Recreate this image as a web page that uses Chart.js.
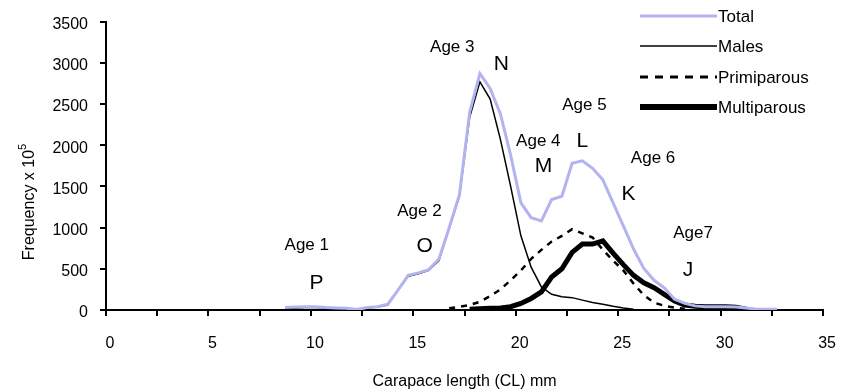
<!DOCTYPE html>
<html>
<head>
<meta charset="utf-8">
<script src="https://cdn.jsdelivr.net/npm/chart.js@4.4.1/dist/chart.umd.min.js"></script>
<style>
    html, body { margin: 0; padding: 0; background: #fff; }
    canvas { display: block; }
</style>
</head>
<body>
<canvas id="chart" width="850" height="392"></canvas>
<script>
// carapace length classes (mm, mid-points of 0.5 mm classes)
const lengths = [8.75, 9.25, 9.75, 10.25, 10.75, 11.25, 11.75, 12.25, 12.75, 13.25,
    13.75, 14.25, 14.75, 15.25, 15.75, 16.25, 16.75, 17.25, 17.75, 18.25,
    18.75, 19.25, 19.75, 20.25, 20.75, 21.25, 21.75, 22.25, 22.75, 23.25,
    23.75, 24.25, 24.75, 25.25, 25.75, 26.25, 26.75, 27.25, 27.75, 28.25,
    28.75, 29.25, 29.75, 30.25, 30.75, 31.25, 31.75, 32.25, 32.75];

const total = [30, 35, 40, 40, 30, 25, 20, 5, 30, 40,
    70, 240, 420, 450, 490, 620, 1000, 1400, 2400, 2870,
    2690, 2380, 1880, 1300, 1120, 1080, 1340, 1380, 1780, 1810,
    1720, 1580, 1300, 1020, 740, 505, 360, 270, 130, 80,
    50, 40, 40, 40, 35, 25, 10, 10, 10];

const males = [20, 25, 30, 30, 25, 20, 15, 5, 25, 35,
    60, 240, 410, 440, 480, 600, 990, 1380, 2340, 2770,
    2560, 2070, 1500, 900, 520, 280, 190, 160, 150, 120,
    90, 70, 45, 25, 10, null, null, null, null, null,
    null, null, null, null, null, null, null, null, null];

const primiparous = [null, null, null, null, null, null, null, null, null, null,
    null, null, null, null, null, null, 20, 40, 60, 100,
    170, 250, 360, 480, 620, 730, 830, 900, 980, 930,
    880, 730, 600, 480, 320, 180, 90, 50, 30, 15,
    null, null, null, null, null, null, null, null, null];

const multiparous = [null, null, null, null, null, null, null, null, null, null,
    null, null, null, null, null, null, null, null, 10, 15,
    20, 25, 40, 80, 140, 220, 400, 500, 700, 800,
    800, 840, 690, 550, 420, 330, 270, 190, 110, 60,
    45, 40, 40, 40, 35, 10, null, null, null];

// age group annotations (position in data units)
const ageText = ['Age 1', 'Age 2', 'Age 3', 'Age 4', 'Age 5', 'Age 6', 'Age7'];
const ageX = [9.8, 15.3, 16.9, 21.1, 23.35, 26.7, 28.65];
const ageY = [780, 1200, 3185, 2045, 2490, 1840, 925];
const letterText = ['P', 'O', 'N', 'M', 'L', 'K', 'J'];
const letterX = [10.27, 15.55, 19.3, 21.35, 23.25, 25.5, 28.4];
const letterY = [325, 780, 2980, 1745, 2045, 1405, 480];

const FONT = "'Liberation Sans', Arial, sans-serif";

function points(series) {
    return lengths.map((x, i) => ({ x: x, y: series[i] })).filter(p => p.y !== null);
}

const datasets = [
    { label: 'Total', data: points(total), borderColor: '#b3b3f0', borderWidth: 3, legendWidth: 3 },
    { label: 'Males', data: points(males), borderColor: '#000', borderWidth: 1.5, legendWidth: 1.5 },
    { label: 'Primiparous', data: points(primiparous), borderColor: '#000', borderWidth: 2.5, borderDash: [6, 6], legendWidth: 3, legendDash: [8, 7] },
    { label: 'Multiparous', data: points(multiparous), borderColor: '#000', borderWidth: 5, legendWidth: 6 }
];
datasets.forEach(ds => {
    ds.pointRadius = 0;
    ds.tension = 0;
    ds.fill = false;
});

// legend on the right, one row per series
const sideLegend = {
    id: 'sideLegend',
    afterDraw(chart) {
        const ctx = chart.ctx;
        const rows = [16, 46, 77, 107];
        ctx.save();
        ctx.font = '17px ' + FONT;
        ctx.fillStyle = '#000';
        ctx.textBaseline = 'middle';
        chart.data.datasets.forEach((ds, i) => {
            ctx.beginPath();
            ctx.strokeStyle = ds.borderColor;
            ctx.lineWidth = ds.legendWidth;
            ctx.setLineDash(ds.legendDash || []);
            ctx.moveTo(640, rows[i]);
            ctx.lineTo(717, rows[i]);
            ctx.stroke();
            ctx.setLineDash([]);
            ctx.fillText(ds.label, 718, rows[i] + 1);
        });
        ctx.restore();
    }
};

const annotations = {
    id: 'annotations',
    afterDraw(chart) {
        const ctx = chart.ctx;
        const xs = chart.scales.x, ys = chart.scales.y;
        ctx.save();
        ctx.fillStyle = '#000';
        ctx.textAlign = 'center';
        ctx.textBaseline = 'middle';
        ctx.font = '17px ' + FONT;
        ageText.forEach((t, i) => {
            ctx.fillText(t, xs.getPixelForValue(ageX[i]), ys.getPixelForValue(ageY[i]));
        });
        ctx.font = '21px ' + FONT;
        letterText.forEach((t, i) => {
            ctx.fillText(t, xs.getPixelForValue(letterX[i]), ys.getPixelForValue(letterY[i]));
        });

        // y axis title with superscript
        ctx.translate(30, 202);
        ctx.rotate(-Math.PI / 2);
        const main = 'Frequency x 10';
        ctx.font = '16px ' + FONT;
        const w = ctx.measureText(main).width;
        ctx.font = '11px ' + FONT;
        const sw = ctx.measureText('5').width;
        const start = -(w + sw) / 2;
        ctx.textAlign = 'left';
        ctx.font = '16px ' + FONT;
        ctx.fillText(main, start, 0);
        ctx.font = '11px ' + FONT;
        ctx.fillText('5', start + w, -7);
        ctx.restore();
    }
};

new Chart(document.getElementById('chart').getContext('2d'), {
    type: 'line',
    data: { datasets: datasets },
    options: {
        responsive: false,
        animation: false,
        devicePixelRatio: 1,
        layout: { padding: { top: 19, right: 21, left: 0, bottom: 0 } },
        plugins: {
            legend: { display: false },
            tooltip: { enabled: false }
        },
        scales: {
            x: {
                type: 'linear',
                min: 0,
                max: 35,
                afterFit: scale => { scale.height = 82; },
                ticks: {
                    stepSize: 2.5,
                    autoSkip: false,
                    maxRotation: 0,
                    color: '#000',
                    font: { size: 16, family: FONT },
                    padding: 18,
                    labelOffset: 4,
                    callback: v => (v % 5 === 0 ? String(v) : '')
                },
                grid: { drawOnChartArea: false, tickLength: 6, color: '#000', lineWidth: 2 },
                border: { color: '#000', width: 2 },
                title: {
                    display: true,
                    text: 'Carapace length (CL) mm',
                    color: '#000',
                    font: { size: 16, family: FONT },
                    padding: { top: 0, bottom: 1 }
                }
            },
            y: {
                min: 0,
                max: 3500,
                afterFit: scale => { scale.width = 106; },
                ticks: {
                    stepSize: 500,
                    color: '#000',
                    font: { size: 16, family: FONT },
                    padding: 12,
                    labelOffset: 3,
                    callback: v => String(v)
                },
                grid: { drawOnChartArea: false, tickLength: 6, color: '#000', lineWidth: 2 },
                border: { color: '#000', width: 2 }
            }
        }
    },
    plugins: [sideLegend, annotations]
});
</script>
</body>
</html>
